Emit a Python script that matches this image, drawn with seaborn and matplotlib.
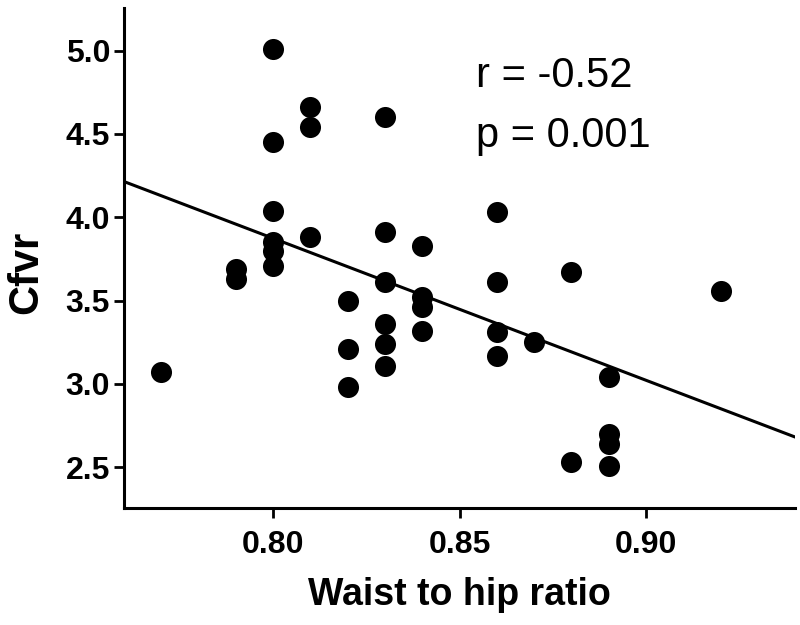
import matplotlib
matplotlib.use("Agg")
import matplotlib.pyplot as plt
import seaborn as sns
import pandas as pd
import numpy as np

# Data
waist_hip = [0.77,
             0.79, 0.79,
             0.80, 0.80, 0.80, 0.80, 0.80, 0.80,
             0.81, 0.81, 0.81,
             0.82, 0.82, 0.82,
             0.83, 0.83, 0.83, 0.83, 0.83, 0.83,
             0.84, 0.84, 0.84, 0.84,
             0.86, 0.86, 0.86, 0.86,
             0.87,
             0.88, 0.88,
             0.89, 0.89, 0.89, 0.89,
             0.92]
cfvr = [3.07,
        3.69, 3.63,
        5.01, 4.45, 4.04, 3.85, 3.80, 3.71,
        4.66, 4.54, 3.88,
        3.50, 3.21, 2.98,
        4.60, 3.91, 3.61, 3.36, 3.24, 3.11,
        3.83, 3.52, 3.46, 3.32,
        4.03, 3.61, 3.31, 3.17,
        3.25,
        3.67, 2.53,
        3.04, 2.70, 2.64, 2.51,
        3.56]
x_ticks = [0.80, 0.85, 0.90]
x_tick_labels = ["0.80", "0.85", "0.90"]
y_ticks = [2.5, 3.0, 3.5, 4.0, 4.5, 5.0]
y_tick_labels = ["2.5", "3.0", "3.5", "4.0", "4.5", "5.0"]
stats_lines = ["r = -0.52", "p = 0.001"]

df = pd.DataFrame({"Waist to hip ratio": waist_hip, "Cfvr": cfvr})

sns.set_theme(style="ticks")
plt.rcParams["font.family"] = ["Liberation Sans", "DejaVu Sans"]
plt.rcParams["text.color"] = "black"
plt.rcParams["axes.labelcolor"] = "black"
plt.rcParams["xtick.color"] = "black"
plt.rcParams["ytick.color"] = "black"

fig = plt.figure(figsize=(8, 6.25), dpi=100)
ax = fig.add_axes([0.155, 0.187, 0.839, 0.800])
ax.set_xlim(0.76, 0.94)
ax.set_ylim(2.255, 5.255)

sns.regplot(data=df, x="Waist to hip ratio", y="Cfvr", ax=ax, ci=None,
            truncate=False,
            scatter_kws=dict(s=230, color="black", linewidths=0, alpha=1),
            line_kws=dict(color="black", linewidth=2.2))

ax.set_xticks(x_ticks)
ax.set_xticklabels(x_tick_labels)
ax.set_yticks(y_ticks)
ax.set_yticklabels(y_tick_labels)
for lbl in ax.get_xticklabels() + ax.get_yticklabels():
    lbl.set_fontweight("bold")
    lbl.set_fontsize(23)
    lbl.set_color("black")
ax.tick_params(axis="both", length=7, width=2, color="black")
ax.tick_params(axis="x", pad=9)
ax.tick_params(axis="y", pad=3)

for side in ["top", "right"]:
    ax.spines[side].set_visible(False)
for side in ["left", "bottom"]:
    ax.spines[side].set_linewidth(2.2)
    ax.spines[side].set_color("black")

ax.set_xlabel("Waist to hip ratio", fontsize=27, fontweight="bold", color="black")
ax.set_ylabel("Cfvr", fontsize=30, fontweight="bold", color="black")
ax.xaxis.set_label_coords(0.5, -0.138)
ax.xaxis.label.set_va("top")
ax.yaxis.set_label_coords(-0.116, 0.472)

ax.text(0.8545, 4.78, stats_lines[0], fontsize=30, ha="left", va="baseline", color="black")
ax.text(0.8545, 4.42, stats_lines[1], fontsize=30, ha="left", va="baseline", color="black")

fig.savefig("out.png", dpi=100, facecolor="white")
